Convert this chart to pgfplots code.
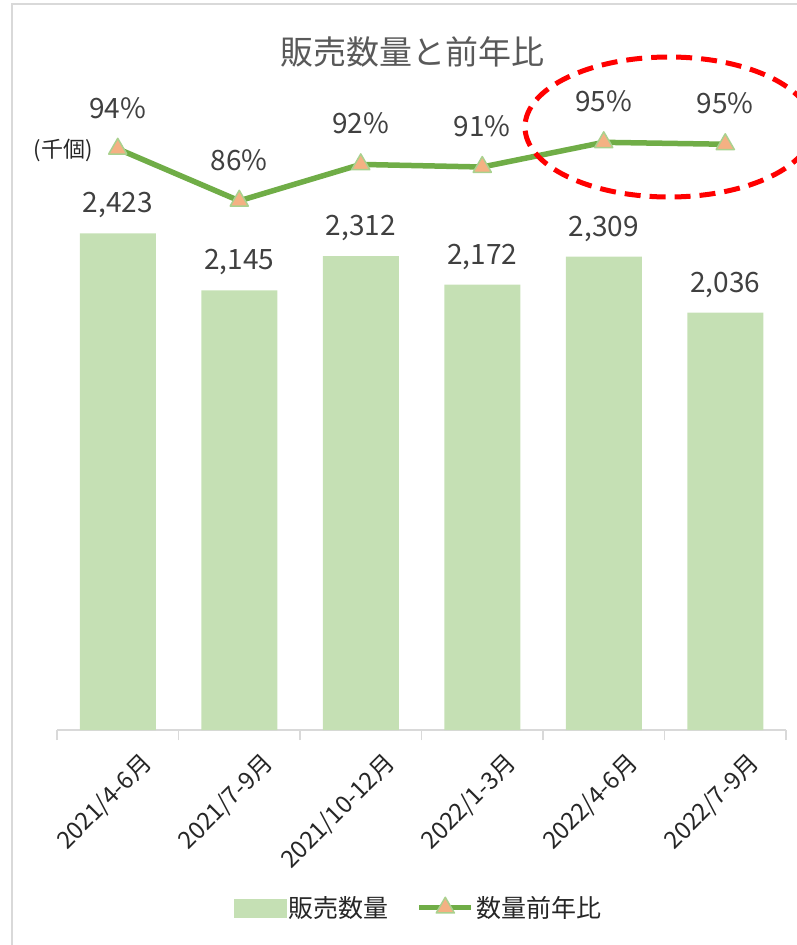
\documentclass[border=0pt]{standalone}
\usepackage{pgfplots}
\pgfplotsset{compat=1.18}
\usepackage{fontspec}
\setmainfont{Noto Sans CJK JP}
\definecolor{barc}{HTML}{C5E0B4}
\definecolor{linec}{HTML}{70AD47}
\definecolor{markc}{HTML}{F4B183}
\definecolor{markedge}{HTML}{A9D18E}
\definecolor{labelc}{HTML}{404040}
\definecolor{tickc}{HTML}{262626}
\definecolor{titlec}{HTML}{595959}
\definecolor{framec}{HTML}{D9D9D9}
\begin{document}
\begin{tikzpicture}[x=1pt,y=1pt]
% chart frame (left and top edge)
\draw[framec, line width=2pt] (12,-945) -- (12,-4) -- (797,-4);
\node[text=titlec, font=\fontsize{33}{33}\selectfont] at (412,-52) {販売数量と前年比};
\node[text=tickc, font=\fontsize{22}{22}\selectfont] at (63,-150) {(千個)};

% bars: sales volume
\begin{axis}[
    at={(57pt,-730pt)}, anchor=south west,
    scale only axis, width=729pt, height=615pt,
    xmin=-0.5, xmax=5.5, ymin=0, ymax=3000,
    axis x line*=bottom, axis y line=none,
    x axis line style={draw=framec, line width=1.5pt, -},
    xtick={0,...,5},
    xticklabels={2021/4-6月,2021/7-9月,2021/10-12月,2022/1-3月,2022/4-6月,2022/7-9月},
    major tick length=0pt,
    minor xtick={-0.5,0.5,1.5,2.5,3.5,4.5,5.5},
    minor tick length=10pt, tick align=outside,
    minor tick style={draw=framec, line width=1.5pt},
    ytick=\empty,
    xticklabel style={rotate=45, anchor=north east, text=tickc,
        font=\fontsize{24}{24}\selectfont, xshift=4pt, yshift=-27pt},
    /pgf/number format/assume math mode=true,
    /pgf/number format/1000 sep={,},
]
\addplot[ybar, bar width=76pt, fill=barc, draw=none,
    nodes near coords,
    every node near coord/.append style={anchor=center, yshift=28pt,
        text=labelc, font=\fontsize{28}{28}\selectfont}]
    coordinates {(0,2423) (1,2145) (2,2312) (3,2172) (4,2309) (5,2036)};
\end{axis}

% line: year-on-year ratio
\begin{axis}[
    at={(57pt,-730pt)}, anchor=south west,
    scale only axis, width=729pt, height=615pt,
    xmin=-0.5, xmax=5.5, ymin=4.6, ymax=99.2,
    hide axis,
    legend style={at={(0.496,-0.289)}, anchor=center, draw=none, fill=none,
        legend columns=2, text=tickc, font=\fontsize{25}{25}\selectfont,
        /tikz/every even column/.append style={column sep=26pt},
        nodes={inner sep=2pt}},
]
\addlegendimage{legend image code/.code={\fill[barc] (0pt,-9pt) rectangle (52pt,9pt);}}
\addlegendentry{販売数量}
\addplot[line width=5.5pt, color=linec, line join=round,
    mark=triangle*, mark size=10.5pt,
    mark options={fill=markc, draw=markedge, line width=1.5pt},
    legend image code/.code={\draw[mark repeat=2,mark phase=2] plot coordinates {(0pt,0pt) (26pt,0pt) (52pt,0pt)};},
    point meta=explicit symbolic,
    nodes near coords={\pgfplotspointmeta},
    every node near coord/.append style={anchor=center, yshift=41pt,
        text=labelc, font=\fontsize{28}{28}\selectfont}]
    coordinates {(0,94.0)[94\%] (1,86.0)[86\%] (2,91.6)[92\%] (3,91.2)[91\%] (4,95.0)[95\%] (5,94.7)[95\%]};
\addlegendentry{数量前年比}
\end{axis}

% highlight ellipse
\draw[red, line width=5pt, dash pattern=on 16pt off 9pt] (669,-127) ellipse [x radius=144, y radius=70];

\pgfresetboundingbox
\path[use as bounding box] (0,0) rectangle (797,-945);
\end{tikzpicture}
\end{document}
